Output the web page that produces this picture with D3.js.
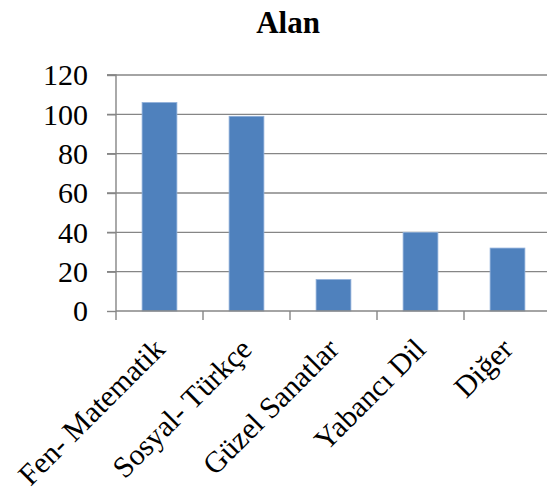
<!DOCTYPE html>
<html>
<head>
<meta charset="utf-8">
<script src="https://cdn.jsdelivr.net/npm/d3@7"></script>
<style>
  html, body { margin: 0; padding: 0; background: #fff; }
  svg { display: block; }
</style>
</head>
<body>
<svg id="chart" width="547" height="496"></svg>
<script>
// Field distribution
const categories = ["Fen- Matematik", "Sosyal- Türkçe", "Güzel Sanatlar", "Yabancı Dil", "Diğer"];
const values = [106, 99, 16, 40, 32];
const yTicks = [0, 20, 40, 60, 80, 100, 120];
const title = "Alan";

const serif = "'Liberation Serif', 'Times New Roman', 'DejaVu Serif', serif";
const svg = d3.select("#chart");
const plotLeft = 116, plotRight = 551, plotTop = 75, plotBottom = 311;

const x = d3.scaleBand().domain(categories).range([plotLeft, plotRight]).paddingInner(0.6).paddingOuter(0.3);
const xEdges = d3.scaleLinear().domain([0, categories.length]).range([plotLeft, plotRight]);
const y = d3.scaleLinear().domain([0, 120]).range([plotBottom, plotTop]);

const gridColor = "#868686";

// horizontal gridlines
svg.append("g").selectAll("line").data(yTicks.filter(d => d > 0)).join("line")
  .attr("x1", plotLeft - 9).attr("x2", 547)
  .attr("y1", d => y(d)).attr("y2", d => y(d))
  .attr("stroke", gridColor).attr("stroke-width", 1.4);

// bars
svg.append("g").selectAll("rect").data(values).join("rect")
  .attr("x", (d, i) => x(categories[i]))
  .attr("width", x.bandwidth())
  .attr("y", d => y(d))
  .attr("height", d => y(0) - y(d))
  .attr("fill", "#4F81BD")
  .attr("stroke", "#8fb0da").attr("stroke-width", 0.8);

// y axis
const yAxis = d3.axisLeft(y).tickValues(yTicks).tickSize(9).tickPadding(19).tickFormat(d3.format("d"));
const gy = svg.append("g").attr("transform", `translate(${plotLeft},0)`).call(yAxis);
gy.attr("font-family", null).attr("font-size", null);
gy.select(".domain").attr("stroke", gridColor).attr("stroke-width", 1.4).attr("d", `M-9,${plotTop}H0V${plotBottom}`);
gy.selectAll(".tick line").attr("stroke", gridColor).attr("stroke-width", 1.4);
gy.selectAll(".tick text")
  .style("font-family", serif).style("font-size", "30px")
  .attr("fill", "#000").attr("dy", "0.33em");

// x axis baseline and tick marks
svg.append("line").attr("x1", plotLeft).attr("x2", 547).attr("y1", plotBottom).attr("y2", plotBottom)
  .attr("stroke", gridColor).attr("stroke-width", 1.4);
svg.append("g").selectAll("line").data(d3.range(categories.length + 1)).join("line")
  .attr("x1", d => xEdges(d)).attr("x2", d => xEdges(d))
  .attr("y1", plotBottom).attr("y2", plotBottom + 9)
  .attr("stroke", gridColor).attr("stroke-width", 1.4);

// rotated category labels
svg.append("g").selectAll("text").data(categories).join("text")
  .attr("transform", d => `translate(${x(d) + x.bandwidth() / 2 + 7},${plotBottom + 40}) rotate(-45)`)
  .attr("text-anchor", "end")
  .style("font-family", serif).style("font-size", "30px")
  .attr("fill", "#000")
  .text(d => d);

// title
svg.append("text").attr("x", 288).attr("y", 33).attr("text-anchor", "middle")
  .style("font-family", serif).style("font-size", "31px").style("font-weight", "bold")
  .attr("fill", "#000").text(title);
</script>
</body>
</html>
